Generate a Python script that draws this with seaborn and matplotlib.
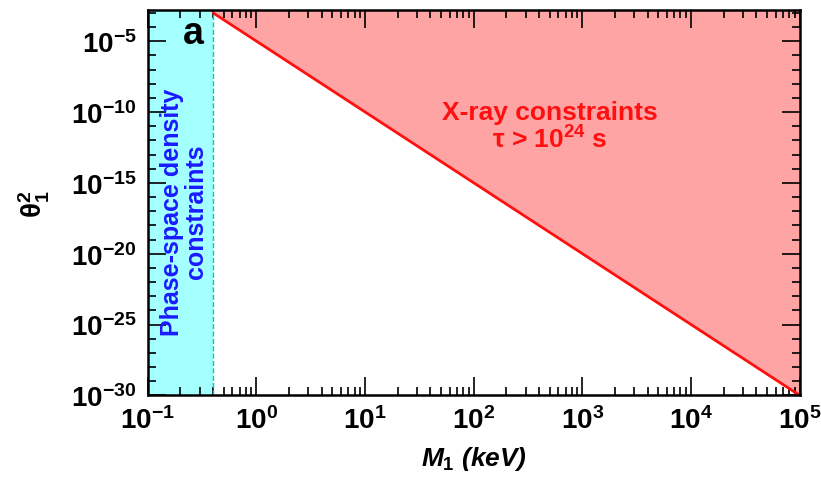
import numpy as np
import pandas as pd
import seaborn as sns
import matplotlib.pyplot as plt
from matplotlib.ticker import NullFormatter

# values
mass_kev = [0.4, 1e5]            # X-ray bound, end points
theta2_bound = [1e-3, 1e-30]
phase_space_min = 0.4            # keV, phase-space density limit
x_limits = [0.1, 1e5]
y_limits = [1e-30, 1.6e-3]
y_major = [1e-30, 1e-25, 1e-20, 1e-15, 1e-10, 1e-5]
y_minor = [10.0**-k for k in range(3, 31)]

sns.set_style("ticks")
plt.rcParams["font.family"] = ["Liberation Sans", "DejaVu Sans"]
plt.rcParams["font.weight"] = "bold"
plt.rcParams["mathtext.fontset"] = "custom"
plt.rcParams["mathtext.rm"] = "Liberation Sans:bold"
plt.rcParams["mathtext.it"] = "Liberation Sans:italic:bold"
plt.rcParams["mathtext.bf"] = "Liberation Sans:bold"
plt.rcParams["axes.unicode_minus"] = False
plt.rcParams["text.color"] = "black"
plt.rcParams["axes.labelcolor"] = "black"
plt.rcParams["xtick.color"] = "black"
plt.rcParams["ytick.color"] = "black"
plt.rcParams["axes.edgecolor"] = "black"

df = pd.DataFrame({"M": mass_kev, "theta2": theta2_bound})

fig = plt.figure(figsize=(8.21, 4.81), dpi=100)
ax = fig.add_axes([0.180, 0.176, 0.794, 0.801])
ax.set_xscale("log")
ax.set_yscale("log")

# phase-space band
ax.axvspan(x_limits[0], phase_space_min, color="#a4ffff", lw=0, zorder=0)
ax.axvline(phase_space_min, color="#00c8d0", ls="--", lw=1, zorder=1)

# X-ray excluded region
ax.fill_between(df["M"], df["theta2"], y_limits[1], color="#ffa4a4", lw=0, zorder=0)
sns.lineplot(data=df, x="M", y="theta2", ax=ax, color="#ff1010", linewidth=2, zorder=2)

ax.set_xlim(x_limits)
ax.set_ylim(y_limits)
ax.set_yticks(y_major)
ax.set_yticks(y_minor, minor=True)
ax.yaxis.set_minor_formatter(NullFormatter())

ax.tick_params(which="both", direction="in", top=True, right=True, width=1.2)
ax.tick_params(which="major", length=13, labelsize=20, pad=8)
ax.tick_params(which="minor", length=6)
for s in ax.spines.values():
    s.set_linewidth(1.8)

ax.set_xlabel(r"$M_1$ (keV)", fontsize=19, fontstyle="italic", fontweight="bold", labelpad=7)
ax.set_ylabel(r"$\mathrm{\theta}_1^2$", fontsize=20, labelpad=14)

ax.text(0.26, 4e-5, "a", fontsize=27, fontweight="bold", ha="center", va="center")
ax.text(0.215, 1e-17, "Phase-space density\nconstraints", rotation=90, color="#1a1aff",
        fontsize=18, fontweight="bold", ha="center", va="center", linespacing=1.0)
ax.text(500, 1e-11, "X-ray constraints\n" + r"$\mathrm{\tau}$ > 10$^{24}$ s", color="#ff1010",
        fontsize=19, fontweight="bold", ha="center", va="center", linespacing=1.1)

plt.savefig("out.png", dpi=100)
